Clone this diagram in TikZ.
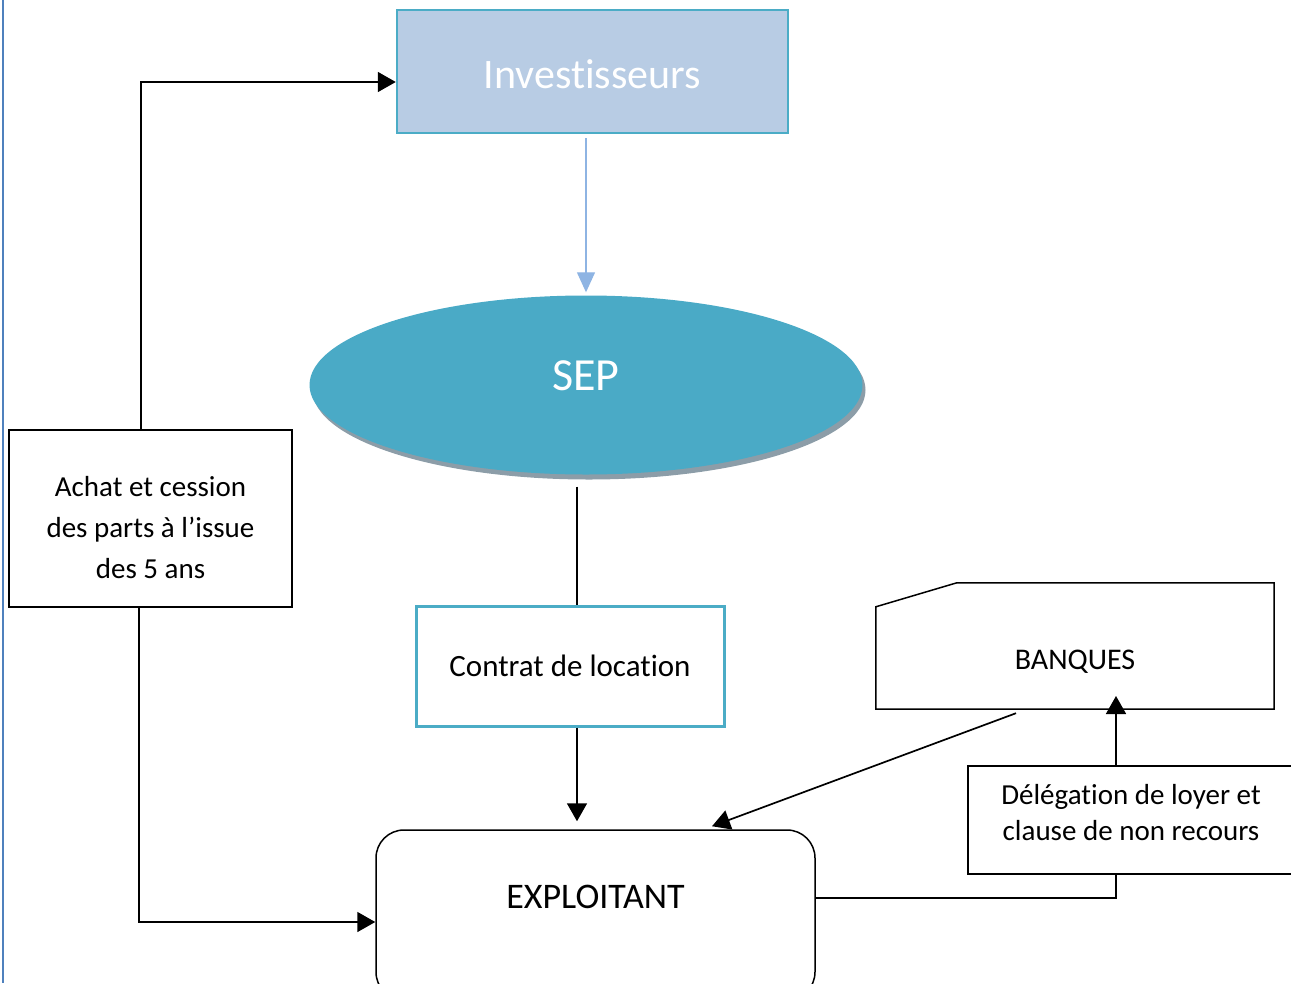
\documentclass[tikz,border=0pt]{standalone}
\usepackage{fontspec}
\setmainfont{Carlito}[Ligatures=NoCommon]
\usetikzlibrary{arrows.meta,shapes.geometric,shadows}
\definecolor{accent}{HTML}{4BACC6}
\definecolor{invfill}{HTML}{B8CCE4}
\definecolor{sepfill}{HTML}{4AAAC6}
\definecolor{sepshadow}{HTML}{8C9DA8}
\definecolor{lblue}{HTML}{8EB4E3}
\definecolor{edgeblue}{HTML}{4F81BD}
\begin{document}
\begin{tikzpicture}[x=1pt,y=-1pt,
  conn/.style={black,line width=1.7pt},
  arr/.style={conn,-{Triangle[length=18pt,width=20pt]}},
  plainbox/.style={draw=black,line width=1.5pt,inner sep=0pt},
  txt/.style={font=\fontsize{29}{41}\selectfont,align=center}
]
\useasboundingbox (0,0) rectangle (1291,983);
\clip (0,0) rectangle (1291,983);

% left page rule
\draw[edgeblue,line width=2pt] (3,0) -- (3,983);

% nodes
\node[draw=accent,line width=2.5pt,fill=invfill,minimum width=391pt,minimum height=123pt,inner sep=0pt,
      label={[text=white,font=\fontsize{42}{50}\selectfont,yshift=-3pt]center:Investisseurs}] (inv) at (592.5,71.5) {};

\node[ellipse,fill=sepfill,minimum width=553pt,minimum height=179pt,inner sep=0pt,
      drop shadow={shadow xshift=3pt,shadow yshift=-5pt,fill=sepshadow,opacity=1},
      label={[text=white,font=\fontsize{46}{52}\selectfont,yshift=9pt]center:SEP}] (sep) at (586,385) {};

\node[draw=accent,line width=3pt,minimum width=308pt,minimum height=120pt,inner sep=0pt,
      font=\fontsize{31}{38}\selectfont] (con) at (570,666) {Contrat de location};

\node[plainbox,rounded corners=28pt,minimum width=439pt,minimum height=170pt,
      label={[font=\fontsize{36}{42}\selectfont,yshift=18pt]center:EXPLOITANT}] (exp) at (595.5,915) {};

\node[plainbox,minimum width=283pt,minimum height=177pt,
      label={[txt,yshift=-9pt]center:{Achat et cession\\des parts à l’issue\\des 5 ans}}] (ach) at (150.5,518.5) {};

\node[inner sep=0pt,minimum width=398pt,minimum height=126pt,
      label={[font=\fontsize{30}{36}\selectfont,yshift=-16pt]center:BANQUES}] (ban) at (1075,646) {};
\draw[line width=1.5pt] (ban.south west) -- ([yshift=-24pt]ban.north west)
   -- ([xshift=81pt]ban.north west) -- (ban.north east) -- (ban.south east) -- cycle;

\node[plainbox,minimum width=332pt,minimum height=108pt,
      label={[font=\fontsize{29}{36}\selectfont,align=center,yshift=7pt,xshift=-3pt]center:{Délégation de loyer et\\clause de non recours}}] (del) at (1134,820) {};

% helper coordinates
\coordinate (c1) at (577,0);
\coordinate (k1) at (141,82);
\coordinate (k2) at (139,922);
\coordinate (k4) at (1116,696);
\coordinate (k5) at (1116,898);

% connectors
\draw[lblue,line width=1.3pt,-{Triangle[length=20pt,width=18pt]},shorten <=4pt,shorten >=3pt]
  (inv.south -| sep.north) -- (sep.north);
\draw[conn,shorten <=12pt] (sep.south -| c1) -- (con.north -| c1);
\draw[arr,shorten >=8pt] (con.south -| c1) -- (exp.north -| c1);
\draw[arr] (ach.north -| k1) -- (k1) -- (inv.west |- k1);
\draw[arr] (ach.south -| k2) -- (k2) -- (exp.west |- k2);
\draw[arr] ([xshift=-59pt,yshift=-4pt]ban.south) -- ([xshift=116.5pt,yshift=3pt]exp.north);
\draw[arr] (del.north -| k4) -- (k4);
\draw[conn] (exp.east |- k5) -- (k5) -- (del.south -| k5);
\end{tikzpicture}
\end{document}
